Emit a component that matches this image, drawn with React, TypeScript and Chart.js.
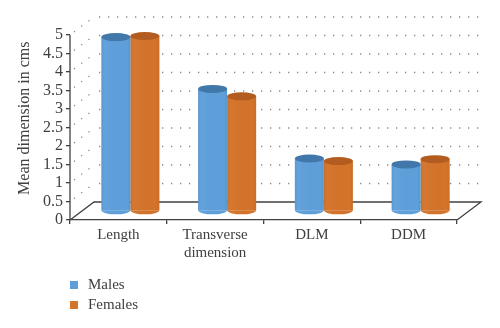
import React, { useEffect, useRef } from 'react';
import { Chart, registerables } from 'chart.js';

Chart.register(...registerables);

// ---- data ----
const categories: (string | string[])[] = ['Length', ['Transverse', 'dimension'], 'DLM', 'DDM'];
const seriesNames = ['Males', 'Females'];
const malesValues = [4.7, 3.3, 1.42, 1.26];
const femalesValues = [4.73, 3.1, 1.35, 1.4];
const yMin = 0;
const yMaxTick = 5;
const yStep = 0.5;
const yAxisTitle = 'Mean dimension in cms';

// ---- styles ----
const bodyColors = ['#5E9FDA', '#D4732A'];
const capColors = ['#4277AA', '#B35C20'];
const FONT = '"Liberation Serif", "Times New Roman", serif';
const TEXT = '#404040';
const DX = 24; // depth offset
const DY = -18;
const CAP_RY = 4;

const threeD = {
  id: 'threeD',
  beforeDatasetsDraw(chart: any) {
    const { ctx, chartArea: ca, scales } = chart;
    const y = scales.y;
    const y0 = y.getPixelForValue(yMin);
    ctx.save();
    ctx.strokeStyle = '#8a8a8a';
    ctx.lineWidth = 1.3;
    ctx.setLineDash([1.3, 7.7]);
    for (let v = yMin + yStep; v <= yMaxTick + 1e-9; v += yStep) {
      const py = y.getPixelForValue(v);
      ctx.beginPath();
      ctx.moveTo(ca.left + 4, py - 3);
      ctx.lineTo(ca.left + DX, py + DY);
      ctx.moveTo(ca.left + DX + 5, py + DY);
      ctx.lineTo(ca.right + DX, py + DY);
      ctx.stroke();
    }
    ctx.setLineDash([]);
    ctx.strokeStyle = TEXT;
    ctx.lineWidth = 1.3;
    ctx.beginPath();
    ctx.moveTo(ca.left, y0);
    ctx.lineTo(ca.left + DX, y0 + DY);
    ctx.lineTo(ca.right + DX, y0 + DY);
    ctx.lineTo(ca.right, y0);
    ctx.stroke();
    ctx.beginPath();
    ctx.moveTo(ca.left, y.getPixelForValue(yMaxTick));
    ctx.lineTo(ca.left, y0);
    ctx.stroke();
    ctx.restore();

    // enter the mid-depth plane for the cylinders
    ctx.save();
    ctx.translate(DX / 2, DY / 2);
    chart.data.datasets.forEach((_ds: any, i: number) => {
      const meta = chart.getDatasetMeta(i);
      meta.data.forEach((el: any) => {
        const { x, base, width } = el.getProps(['x', 'base', 'width'], true);
        ctx.fillStyle = bodyColors[i];
        ctx.beginPath();
        ctx.ellipse(x, base, width / 2, CAP_RY, 0, 0, Math.PI);
        ctx.fill();
      });
    });
  },
  afterDatasetsDraw(chart: any) {
    const { ctx } = chart;
    chart.data.datasets.forEach((_ds: any, i: number) => {
      const meta = chart.getDatasetMeta(i);
      meta.data.forEach((el: any) => {
        const { x, y, base, width } = el.getProps(['x', 'y', 'base', 'width'], true);
        const l = x - width / 2;
        const g = ctx.createLinearGradient(l, 0, l + width, 0);
        g.addColorStop(0, 'rgba(0,0,0,0.05)');
        g.addColorStop(0.12, 'rgba(255,255,255,0.03)');
        g.addColorStop(0.88, 'rgba(0,0,0,0)');
        g.addColorStop(1, 'rgba(0,0,0,0.05)');
        ctx.fillStyle = g;
        ctx.beginPath();
        ctx.moveTo(l, y);
        ctx.lineTo(l, base);
        ctx.ellipse(x, base, width / 2, CAP_RY, 0, Math.PI, 0, true);
        ctx.lineTo(l + width, y);
        ctx.closePath();
        ctx.fill();
        ctx.fillStyle = capColors[i];
        ctx.beginPath();
        ctx.ellipse(x, y, width / 2, CAP_RY, 0, 0, Math.PI * 2);
        ctx.fill();
      });
    });
    ctx.restore();
  },
  afterDraw(chart: any) {
    const { ctx } = chart;
    ctx.save();
    ctx.font = `15px ${FONT}`;
    ctx.textBaseline = 'middle';
    ctx.textAlign = 'left';
    chart.data.datasets.forEach((ds: any, i: number) => {
      const cy = 285 + i * 20;
      ctx.fillStyle = bodyColors[i];
      ctx.fillRect(70, cy - 4, 8, 8);
      ctx.fillStyle = TEXT;
      ctx.fillText(ds.label, 88, cy);
    });
    ctx.restore();
  },
};

export default function App() {
  const ref = useRef<HTMLCanvasElement | null>(null);
  useEffect(() => {
    document.body.style.margin = '0';
    if (!ref.current) return;
    const chart = new Chart(ref.current, {
      type: 'bar',
      data: {
        labels: categories as any,
        datasets: [
          { label: seriesNames[0], data: malesValues, backgroundColor: bodyColors[0], borderWidth: 0, clip: false as any },
          { label: seriesNames[1], data: femalesValues, backgroundColor: bodyColors[1], borderWidth: 0, clip: false as any },
        ],
      },
      options: {
        animation: false,
        responsive: true,
        maintainAspectRatio: false,
        events: [],
        layout: { padding: { top: 16.5, right: 43, left: 0, bottom: 0 } },
        datasets: { bar: { categoryPercentage: 0.6, barPercentage: 1 } },
        plugins: { legend: { display: false }, tooltip: { enabled: false } },
        scales: {
          x: {
            afterFit: (s: any) => { s.height = 108; },
            grid: { offset: true, drawOnChartArea: false, tickLength: 4, color: TEXT, lineWidth: 1.3 },
            border: { color: TEXT, width: 1.3 },
            ticks: { font: { family: FONT, size: 15 }, color: TEXT, padding: 2, maxRotation: 0 },
          },
          y: {
            min: yMin,
            max: yMaxTick + yStep,
            afterFit: (s: any) => { s.width = 70; },
            afterBuildTicks: (s: any) => { s.ticks = s.ticks.filter((t: any) => t.value <= yMaxTick + 1e-9); },
            grid: { drawOnChartArea: false, tickLength: 4, color: TEXT, lineWidth: 1.3 },
            border: { display: false },
            ticks: {
              stepSize: yStep,
              autoSkip: false,
              font: { family: FONT, size: 16 },
              color: TEXT,
              padding: 3,
              callback: (v: any) => String(v),
            },
            title: {
              display: true,
              text: yAxisTitle,
              font: { family: FONT, size: 16 },
              color: TEXT,
              padding: { top: 15, bottom: 0 },
            },
          },
        },
      },
      plugins: [threeD],
    });
    return () => chart.destroy();
  }, []);
  return (
    <div style={{ position: 'fixed', left: 0, top: 0, width: 500, height: 328 }}>
      <canvas ref={ref} />
    </div>
  );
}
